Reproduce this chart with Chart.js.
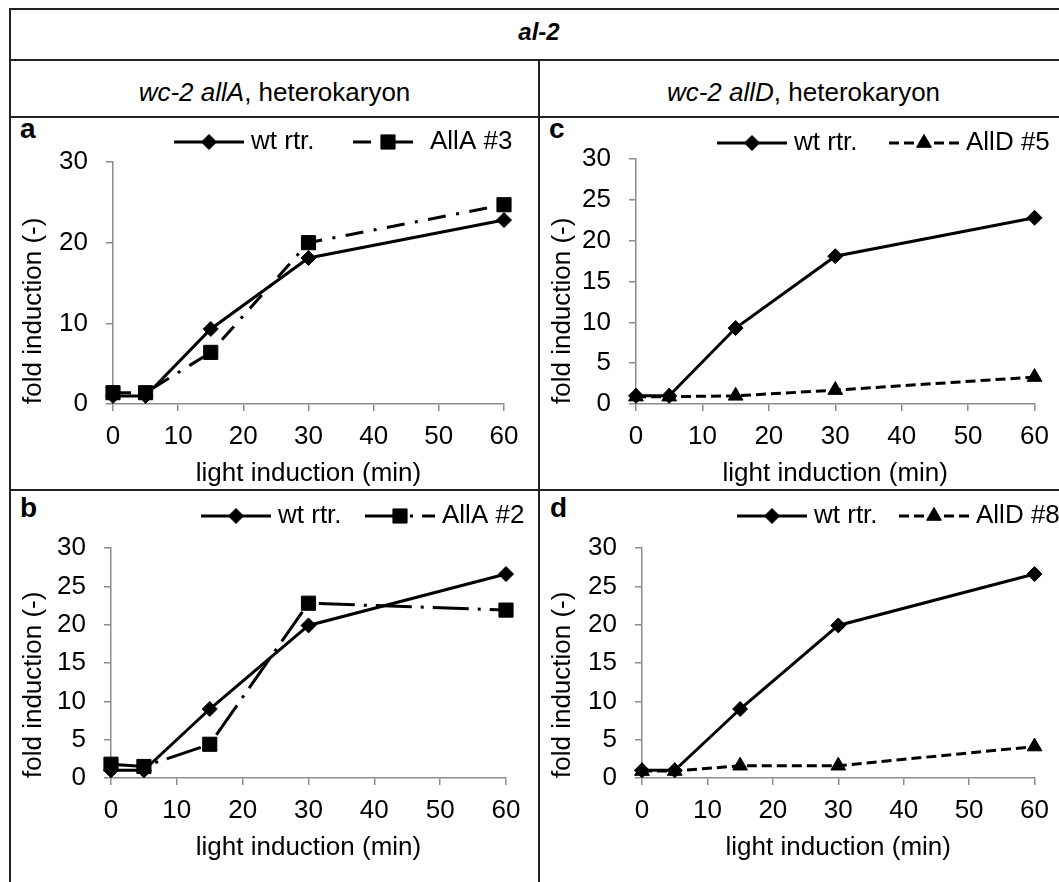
<!DOCTYPE html>
<html>
<head>
<meta charset="utf-8">
<script src="https://cdn.jsdelivr.net/npm/chart.js@4.4.0/dist/chart.umd.min.js"></script>
<style>
  body { margin: 0; background: #fff; width: 1059px; height: 882px; overflow: hidden; position: relative;
         font-family: "Liberation Sans", Arial, sans-serif; color: #000; }
  .hl { position: absolute; height: 2px; background: #222; }
  .vl { position: absolute; width: 2px; background: #222; }
  .txt { position: absolute; font-size: 26px; line-height: 30px; white-space: nowrap; }
  .lbl { position: absolute; font-size: 28px; line-height: 30px; font-weight: bold; }
  canvas { position: absolute; }
</style>
</head>
<body>
<!-- table frame -->
<div class="hl" style="left:9px; top:8px; width:1060px"></div>
<div class="hl" style="left:9px; top:59px; width:1060px"></div>
<div class="hl" style="left:9px; top:116px; width:1060px"></div>
<div class="hl" style="left:9px; top:489px; width:1060px"></div>
<div class="vl" style="left:9px; top:8px; height:880px"></div>
<div class="vl" style="left:538px; top:59px; height:830px"></div>

<div class="txt" style="left:10px; width:1058px; text-align:center; top:17px; font-size:24px; font-weight:bold; font-style:italic">al-2</div>
<div class="txt" style="left:10px; width:529px; text-align:center; top:77px"><i>wc-2 allA</i>, heterokaryon</div>
<div class="txt" style="left:539px; width:529px; text-align:center; top:77px"><i>wc-2 allD</i>, heterokaryon</div>

<div class="lbl" style="left:20px; top:114px">a</div>
<div class="lbl" style="left:549px; top:114px">c</div>
<div class="lbl" style="left:20px; top:493px">b</div>
<div class="lbl" style="left:550px; top:493px">d</div>

<canvas id="chartA" width="527" height="371" style="left:11px; top:118px"></canvas>
<canvas id="chartC" width="519" height="371" style="left:540px; top:118px"></canvas>
<canvas id="chartB" width="527" height="391" style="left:11px; top:491px"></canvas>
<canvas id="chartD" width="519" height="391" style="left:540px; top:491px"></canvas>

<script>
// datos
const minutos = [0, 5, 15, 30, 60];
const wtTop = [1.0, 1.0, 9.3, 18.1, 22.8];     // wt rtr. paneles a y c
const allA3 = [1.4, 1.4, 6.4, 20.0, 24.7];
const allD5 = [0.9, 0.9, 1.0, 1.7, 3.3];
const wtBottom = [1.0, 1.0, 9.0, 19.9, 26.6];  // wt rtr. paneles b y d
const allA2 = [1.8, 1.5, 4.4, 22.8, 21.9];
const allD8 = [0.9, 0.9, 1.6, 1.6, 4.1];
const xTicks = [0, 10, 20, 30, 40, 50, 60];
const xTitle = 'light induction (min)';
const yTitle = 'fold induction (-)';

Chart.defaults.font.family = '"Liberation Sans", Arial, sans-serif';
Chart.defaults.color = '#000';

const FONT = 26;
const GRIS = '#8c8c8c';

// estilos de cada serie
function serie(label, valores, tipo) {
    const estilos = {
        wt:  { dash: [], punto: 'rectRot', radio: 7.5 },
        dashdot: { dash: [18, 10.5, 3, 10.5], punto: 'rect', radio: 10 },
        longdashdot: { dash: [36, 9, 3, 9], punto: 'rect', radio: 10 },
        dash: { dash: [10, 5], punto: 'triangle', radio: 8.5 }
    };
    const e = estilos[tipo];
    return {
        label: label,
        data: minutos.map((m, i) => ({ x: m, y: valores[i] })),
        borderColor: '#000',
        backgroundColor: '#000',
        borderWidth: 3,
        borderDash: e.dash,
        pointStyle: e.punto,
        pointRadius: e.radio,
        pointHoverRadius: e.radio,
        pointBorderWidth: 1,
        pointBackgroundColor: '#000',
        pointBorderColor: '#000',
        tension: 0,
        clip: false
    };
}

// leyenda estilo Excel: linea con marcador en el centro
const leyendaLinea = {
    id: 'leyendaLinea',
    afterDraw(chart, args, opts) {
        const ctx = chart.ctx;
        chart.data.datasets.forEach((ds, i) => {
            const cx = opts.xs[i], cy = opts.y;
            ctx.save();
            ctx.strokeStyle = ds.borderColor;
            ctx.lineWidth = ds.borderWidth;
            ctx.setLineDash(ds.borderDash);
            ctx.beginPath();
            ctx.moveTo(cx - 35, cy);
            ctx.lineTo(cx + 35, cy);
            ctx.stroke();
            ctx.setLineDash([]);
            ctx.fillStyle = '#000';
            ctx.lineWidth = 1;
            Chart.helpers.drawPoint(ctx, { pointStyle: ds.pointStyle, radius: ds.pointRadius, borderWidth: 1, rotation: 0 }, cx, cy);
            ctx.font = FONT + 'px "Liberation Sans", Arial, sans-serif';
            ctx.textBaseline = 'middle';
            ctx.textAlign = 'left';
            ctx.fillText(ds.label, cx + 42, cy);
            ctx.restore();
        });
    }
};

function crearGrafico(id, datasets, cfg) {
    const ctx = document.getElementById(id).getContext('2d');
    return new Chart(ctx, {
        type: 'line',
        data: { datasets: datasets },
        options: {
            responsive: false,
            animation: false,
            layout: { padding: { left: 0, top: cfg.top, right: cfg.right, bottom: 0 } },
            plugins: {
                legend: { display: false },
                tooltip: { enabled: false },
                leyendaLinea: { xs: cfg.legendXs, y: cfg.legendY }
            },
            scales: {
                x: {
                    type: 'linear',
                    min: 0, max: 60,
                    afterBuildTicks: s => { s.ticks = xTicks.map(v => ({ value: v })); },
                    afterFit: s => { s.height = cfg.xHeight; },
                    ticks: { font: { size: FONT }, color: '#000', padding: 10, maxRotation: 0 },
                    grid: { drawOnChartArea: false, drawTicks: true, tickLength: 7, color: GRIS, lineWidth: 1.5 },
                    border: { color: GRIS, width: 1.5 },
                    title: { display: true, text: xTitle, font: { size: FONT }, color: '#000', padding: { top: 0, bottom: cfg.xTitlePad } }
                },
                y: {
                    min: 0, max: 30,
                    ticks: { stepSize: cfg.yStep, font: { size: FONT }, color: '#000', padding: 18 },
                    afterFit: s => { s.width = cfg.yWidth; },
                    grid: { drawOnChartArea: false, drawTicks: true, tickLength: 7, color: GRIS, lineWidth: 1.5 },
                    border: { color: GRIS, width: 1.5 },
                    title: { display: true, text: yTitle, align: 'start', font: { size: FONT }, color: '#000', padding: { top: 7, bottom: 0 } }
                }
            }
        },
        plugins: [leyendaLinea]
    });
}

crearGrafico('chartA', [serie('wt rtr.', wtTop, 'wt'), serie('AllA #3', allA3, 'dashdot')],
    { top: 44, right: 34, yWidth: 102, xHeight: 85, xTitlePad: 0, yStep: 10, legendXs: [198, 377], legendY: 24 });
crearGrafico('chartC', [serie('wt rtr.', wtTop, 'wt'), serie('AllD #5', allD5, 'dash')],
    { top: 41, right: 21, yWidth: 96, xHeight: 85, xTitlePad: 0, yStep: 5, legendXs: [212, 384], legendY: 25 });
crearGrafico('chartB', [serie('wt rtr.', wtBottom, 'wt'), serie('AllA #2', allA2, 'longdashdot')],
    { top: 57, right: 32, yWidth: 100, xHeight: 104, xTitlePad: 19, yStep: 5, legendXs: [225, 389], legendY: 25 });
crearGrafico('chartD', [serie('wt rtr.', wtBottom, 'wt'), serie('AllD #8', allD8, 'dash')],
    { top: 57, right: 21, yWidth: 102, xHeight: 104, xTitlePad: 19, yStep: 5, legendXs: [232, 394], legendY: 25 });
</script>
</body>
</html>
